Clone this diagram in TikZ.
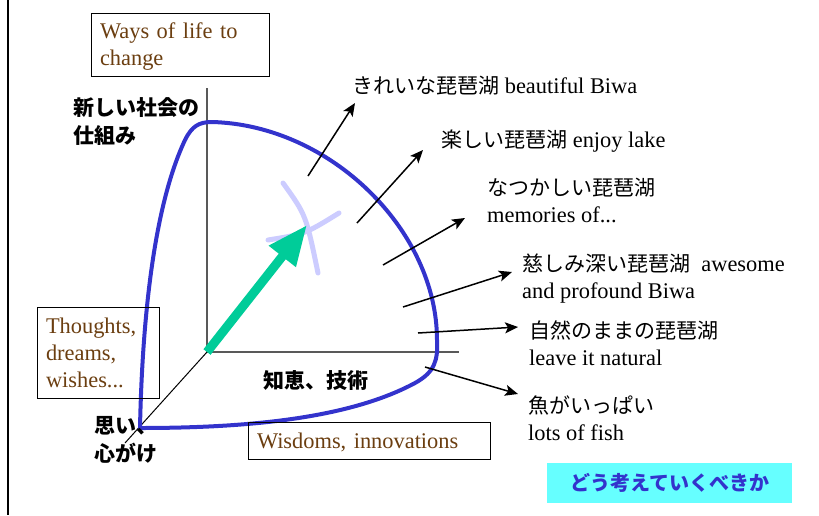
\documentclass[tikz,border=0pt]{standalone}
\usepackage{fontspec}
\setmainfont{Liberation Serif}
\newfontfamily\cjk{Noto Sans CJK JP}
\usetikzlibrary{arrows.meta}
\definecolor{curveblue}{HTML}{3333CC}
\definecolor{arrowgreen}{HTML}{00CC99}
\definecolor{crossblue}{HTML}{CCCCFF}
\definecolor{boxbrown}{HTML}{6B3E10}
\definecolor{cyanfill}{HTML}{66FFFF}
\newcommand{\jp}[1]{{\cjk\fontsize{21}{27}\selectfont #1}}
\newcommand{\topstrut}{\rule{0pt}{19pt}}
\begin{document}
\begin{tikzpicture}[x=1pt,y=-1pt,
  en/.style={font=\fontsize{22.4}{27}\selectfont},
  lbl/.style={en, anchor=base west, inner sep=0pt, align=left},
  refbox/.style={draw, line width=1pt, en, text=boxbrown, align=left, inner sep=0pt},
  boldjp/.style={font=\cjk\bfseries\fontsize{21}{28}\selectfont, anchor=base west, inner sep=0pt, align=left},
  outarrow/.style={line width=1.5pt, -{Stealth[length=13pt,width=11pt,inset=3pt]}},
  axisline/.style={line width=1.2pt, draw=black!65},
]
\useasboundingbox (0,0) rectangle (819,515);
% frame edge
\coordinate (ftop) at (8,0);
\coordinate (fbot) at (8,515);
\draw[line width=2pt] (ftop) -- (fbot);

% axes
\coordinate (o) at (207,352);
\coordinate (ytop) at (207,88);
\coordinate (xend) at (459,352);
\coordinate (zend) at (125,443);
\draw[axisline] (o) -- (ytop);
\draw[axisline] (o) -- (xend);
\draw[line width=1pt] (o) -- (zend);

% blue surface outline
\draw[curveblue, line width=4pt, line join=miter]
  (140,428) .. controls (142,330) and (152,210) .. (185,140)
  .. controls (192,126) and (199,122) .. (212,122)
  .. controls (330,125) and (437,230) .. (437,340)
  .. controls (438,360) and (435,372) .. (415,383)
  .. controls (350,418) and (250,428) .. cycle;

% light cross
\draw[crossblue, line width=5pt, line cap=round] (283,183) .. controls (306,215) .. (318,273);
\draw[crossblue, line width=5pt, line cap=round] (268,240) .. controls (305,234) .. (339,213);

% green arrow
\coordinate (gtip) at (307,225);
\draw[arrowgreen, line width=9pt, -{Triangle[length=40pt,width=32pt]}] (o) -- (gtip);

% outward arrows
\coordinate (a1s) at (308,176); \coordinate (a1e) at (355,103);
\coordinate (a2s) at (357,223); \coordinate (a2e) at (423,150);
\coordinate (a3s) at (383,265); \coordinate (a3e) at (465,218);
\coordinate (a4s) at (403,307); \coordinate (a4e) at (512,272);
\coordinate (a5s) at (418,333); \coordinate (a5e) at (518,327);
\coordinate (a6s) at (425,367); \coordinate (a6e) at (518,394);
\draw[outarrow] (a1s) -- (a1e);
\draw[outarrow] (a2s) -- (a2e);
\draw[outarrow] (a3s) -- (a3e);
\draw[outarrow] (a4s) -- (a4e);
\draw[outarrow] (a5s) -- (a5e);
\draw[outarrow] (a6s) -- (a6e);

% right labels (multi-line nodes: base = last line)
\node[lbl] (l1) at (352,93) {\jp{きれいな琵琶湖} beautiful Biwa};
\node[lbl] (l2) at (441,147) {\jp{楽しい琵琶湖} enjoy lake};
\node[lbl] (l3) at (487,222) {\jp{なつかしい琵琶湖}\\memories of...};
\node[lbl] (l4) at (522,298) {\jp{慈しみ深い琵琶湖}\ \ awesome\\and profound Biwa};
\node[lbl] (l5) at (529,365) {\jp{自然のままの琵琶湖}\\leave it natural};
\node[lbl] (l6) at (528,440) {\jp{魚がいっぱい}\\lots of fish};

% boxes
\node[refbox, minimum width=178pt, minimum height=63pt, text width=160pt] (ways) at (180,44.5) {\topstrut Ways of life to\\change};
\node[refbox, minimum width=122pt, minimum height=91pt, text width=104pt] (thoughts) at (98,352.5) {Thoughts,\\dreams,\\wishes...};
\node[refbox, minimum width=242pt, minimum height=37pt, text width=224pt] (wisdoms) at (369,440.5) {\topstrut Wisdoms, innovations};

% bold axis labels
\node[boldjp] (newsoc) at (73,143) {新しい社会の\\仕組み};
\node[boldjp] (wisdom) at (263,388) {知恵、技術};
\node[boldjp] (omoi) at (94,461) {思い、\\心がけ};

% question box
\node[fill=cyanfill, minimum width=245pt, minimum height=40pt, inner sep=0pt,
  font=\cjk\bfseries\fontsize{20}{24}\selectfont, text=curveblue] (question) at (669.5,483) {どう考えていくべきか};
\end{tikzpicture}
\end{document}
